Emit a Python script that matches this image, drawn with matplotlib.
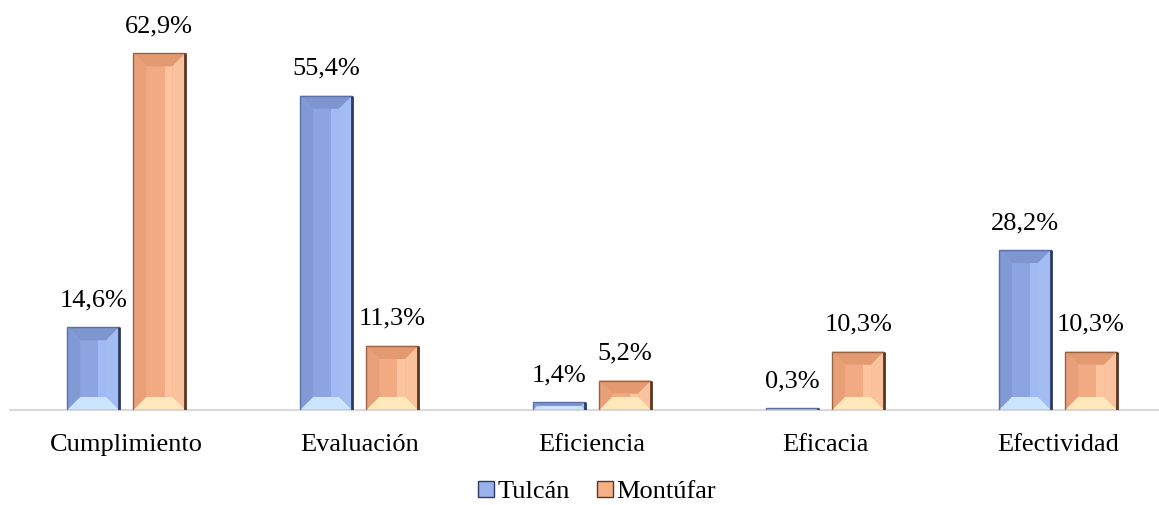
import matplotlib
matplotlib.use("Agg")
import matplotlib.pyplot as plt
from matplotlib.patches import Polygon
from matplotlib.lines import Line2D
import numpy as np

categories = ["Cumplimiento", "Evaluación", "Eficiencia", "Eficacia", "Efectividad"]
series_names = ["Tulcán", "Montúfar"]
tulcan = [14.6, 55.4, 1.4, 0.3, 28.2]
montufar = [62.9, 11.3, 5.2, 10.3, 10.3]

plt.rcParams['font.family'] = ['Liberation Serif', 'DejaVu Serif']

W, H = 1159, 505
fig = plt.figure(figsize=(W / 100, H / 100), dpi=100)
ax_left_px, ax_right_px = 9.8, 1174.5
ax_bottom_px, ax_top_px = 410, 13
ax = fig.add_axes([ax_left_px / W, (H - ax_bottom_px) / H,
                   (ax_right_px - ax_left_px) / W, (ax_bottom_px - ax_top_px) / H])
ax.set_xlim(-0.5, 4.5)
ax.set_ylim(0, 70)

px_x = (ax_right_px - ax_left_px) / 5.0   # pixels per x unit
px_y = (ax_bottom_px - ax_top_px) / 70.0  # pixels per y unit

bw = 0.223
off = 0.142
x = np.arange(len(categories))

styles = {
    "Tulcán": dict(face="#98B2EC", edge="#5A6FA6", dark="#2E3C62", top="#7E95CF",
                   left="#8199D5", inl="#8CA4DF", inr="#A0BAF3", right="#A3BCF3",
                   bottom="#CDE4FF"),
    "Montúfar": dict(face="#F7AF86", edge="#9A6444", dark="#5A3826", top="#E39A70",
                     left="#E9A078", inl="#F1AA82", inr="#FDC4A0", right="#FBC29E",
                     bottom="#FFE8BC"),
}

def bevel_bar(xc, h, st):
    ax.bar(xc, h, bw, color=st["face"], edgecolor="none", linewidth=0, zorder=2)
    bpx = min(13.0, bw * px_x / 2, h * px_y / 2)
    x0, x1 = xc - bw / 2, xc + bw / 2
    y0, y1 = 0, h
    if bpx > 0:
        bx = bpx / px_x
        by = bpx / px_y
        xm = xc + 0.1 * bw
        polys = [
            ([(x0 + bx, y0 + by), (x0 + bx, y1 - by), (xm, y1 - by), (xm, y0 + by)], st["inl"]),
            ([(xm, y0 + by), (xm, y1 - by), (x1 - bx, y1 - by), (x1 - bx, y0 + by)], st["inr"]),
            ([(x0, y1), (x1, y1), (x1 - bx, y1 - by), (x0 + bx, y1 - by)], st["top"]),
            ([(x0, y0), (x0, y1), (x0 + bx, y1 - by), (x0 + bx, y0 + by)], st["left"]),
            ([(x1, y0), (x1, y1), (x1 - bx, y1 - by), (x1 - bx, y0 + by)], st["right"]),
            ([(x0, y0), (x1, y0), (x1 - bx, y0 + by), (x0 + bx, y0 + by)], st["bottom"]),
        ]
        for pts, c in polys:
            ax.add_patch(Polygon(pts, closed=True, facecolor=c, edgecolor="none", zorder=3))
    ax.add_patch(Polygon([(x0, y0), (x0, y1), (x1, y1), (x1, y0)], closed=True,
                         facecolor="none", edgecolor=st["edge"], linewidth=1.0, zorder=4))
    ax.plot([x1, x1], [y0, y1], color=st["dark"], linewidth=2.0, zorder=5,
            solid_capstyle="butt")

for vals, name, sgn in [(tulcan, "Tulcán", -1), (montufar, "Montúfar", 1)]:
    st = styles[name]
    for i, v in enumerate(vals):
        xc = x[i] + sgn * off
        bevel_bar(xc, v, st)
        ax.text(xc, v + 16 / px_y, f"{v:.1f}%".replace(".", ","), ha="center",
                va="bottom", fontsize=19, color="#000000")

for s in ["top", "right", "left"]:
    ax.spines[s].set_visible(False)
ax.spines["bottom"].set_color("#D9D9D9")
ax.spines["bottom"].set_linewidth(1.5)
ax.spines["bottom"].set_zorder(1)
ax.set_yticks([])
ax.set_xticks(x)
ax.set_xticklabels(categories, fontsize=19)
ax.tick_params(axis="x", length=0, pad=17)

handles = [
    Line2D([], [], marker="s", linestyle="none", markersize=11,
           markerfacecolor=styles[n]["face"], markeredgecolor=styles[n]["dark"])
    for n in series_names
]
fig.legend(handles, series_names, loc="center", bbox_to_anchor=(0.514, 1 - 491 / H),
           ncol=2, frameon=False, fontsize=19, handletextpad=0.05, columnspacing=0.9,
           handlelength=0.8, borderpad=0.1)

fig.savefig("out.png", dpi=100)
